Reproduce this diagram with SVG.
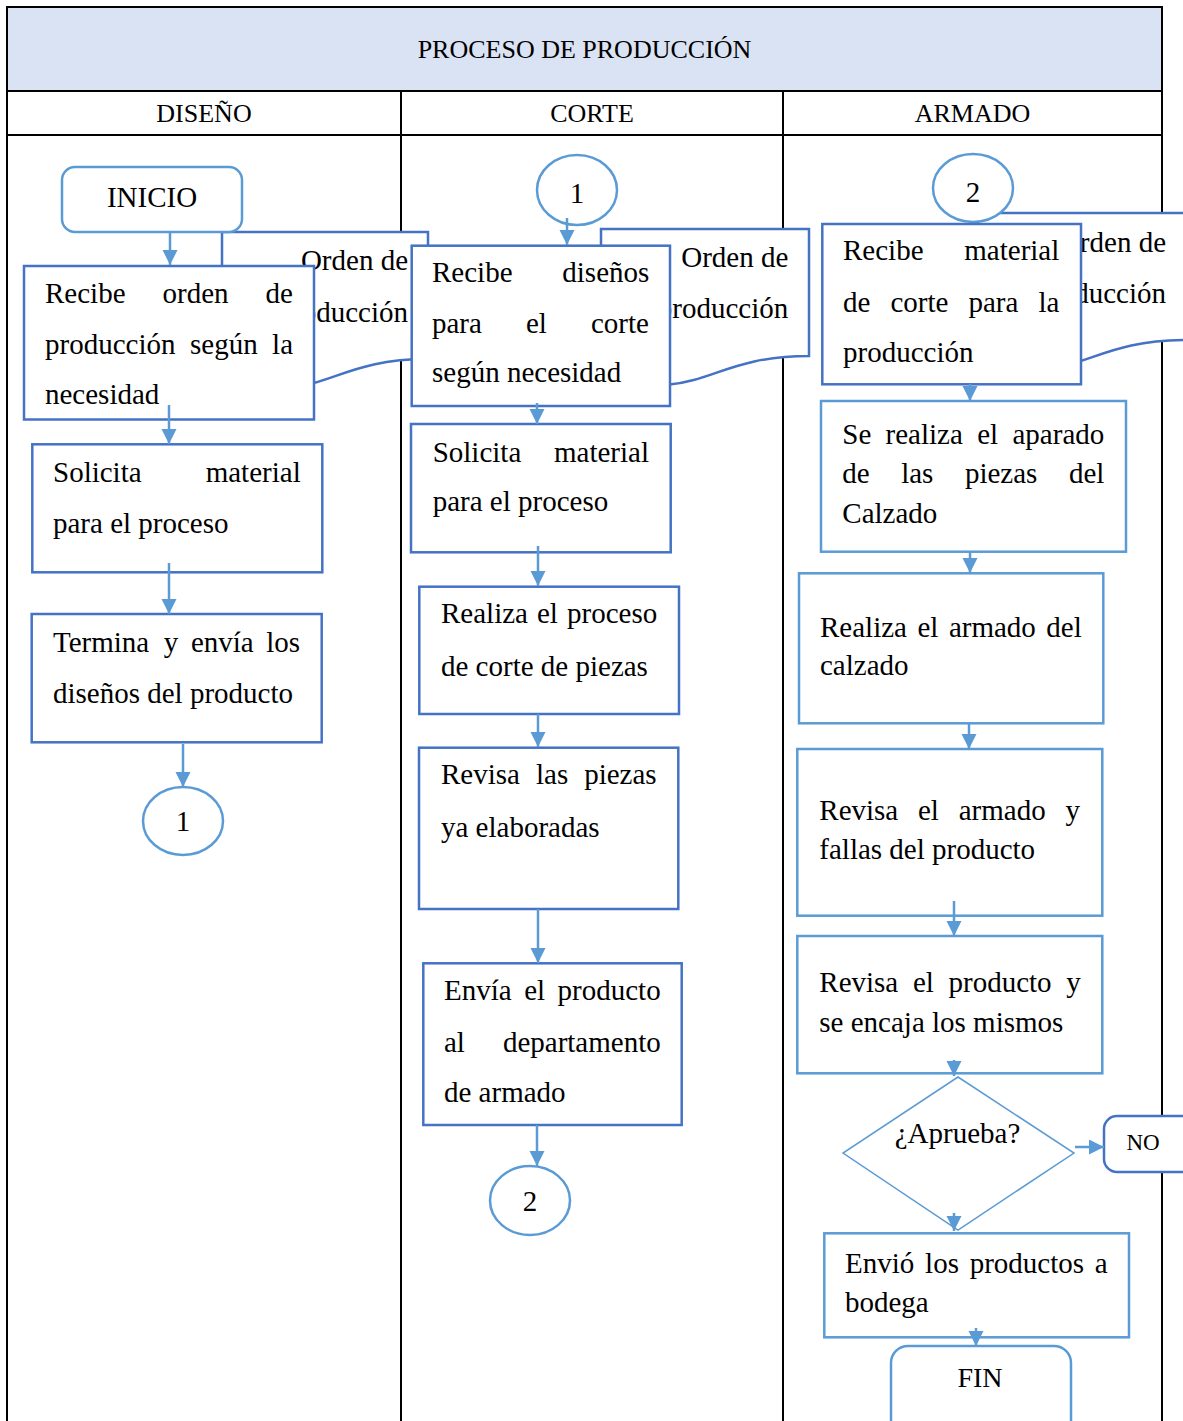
<svg xmlns="http://www.w3.org/2000/svg" width="1183" height="1421" viewBox="0 0 1183 1421">
<style>
.t{font-family:"Liberation Serif","Times New Roman",serif;font-size:29px;fill:#000}
.h{font-size:26px}
.c{text-anchor:middle}
.e{text-anchor:end}
.box{fill:#fff;stroke:#4472c4;stroke-width:2.5}
.lbox{fill:#fff;stroke:#5b9bd5;stroke-width:2.5}
.conn{stroke:#5b9bd5;stroke-width:2.5;fill:none;marker-end:url(#ah)}
.grid{stroke:#000;stroke-width:2;fill:none}
</style>
<defs>
<marker id="ah" markerUnits="userSpaceOnUse" markerWidth="16" markerHeight="16" refX="15" refY="7.5" orient="auto">
<path d="M0,0 L15,7.5 L0,15 z" fill="#5b9bd5"/>
</marker>
</defs>
<rect width="1183" height="1421" fill="#fff"/>
<g id="table">
<rect x="7" y="7" width="1155" height="84" fill="#dae3f3" stroke="#000" stroke-width="2"/>
<line class="grid" x1="7" y1="91" x2="7" y2="1421"/>
<line class="grid" x1="1162" y1="91" x2="1162" y2="1421"/>
<line class="grid" x1="7" y1="135" x2="1162" y2="135"/>
<line class="grid" x1="401" y1="91" x2="401" y2="1421"/>
<line class="grid" x1="783" y1="91" x2="783" y2="1421"/>
<text class="t h c" x="584.5" y="58">PROCESO DE PRODUCCIÓN</text>
<text class="t h c" x="204" y="122">DISEÑO</text>
<text class="t h c" x="592" y="122">CORTE</text>
<text class="t h c" x="972.5" y="122">ARMADO</text>
</g>
<g id="doc-diseno">
<path class="box" d="M222,232 H428 V359 C325,359 325,407 222,379.6 Z"/>
<text class="t e" x="408" y="270">Orden de</text>
<text class="t e" x="408" y="321.5">producción</text>
</g>
<g id="doc-corte">
<path class="box" d="M601,229 H809 V356 C705,356 705,404 601,376.6 Z"/>
<text class="t e" x="788.3" y="266.7">Orden de</text>
<text class="t e" x="788.3" y="317.7">producción</text>
</g>
<g id="doc-armado">
<path class="box" d="M978,213 H1186 V340 C1082,340 1082,388 978,360.6 Z"/>
<text class="t e" x="1166" y="252">Orden de</text>
<text class="t e" x="1166" y="303">producción</text>
</g>
<g id="inicio">
<rect class="lbox" x="62" y="167" width="180" height="65" rx="13"/>
<text class="t c" x="152" y="206.7">INICIO</text>
</g>
<g id="d-recibe">
<rect class="box" x="24" y="266" width="290" height="153.5"/>
<text class="t" y="303"><tspan x="45">Recibe</tspan><tspan x="162.6">orden</tspan><tspan x="265.6">de</tspan></text>
<text class="t" y="353.5"><tspan x="45">producción</tspan><tspan x="190">según</tspan><tspan x="272.1">la</tspan></text>
<text class="t" x="45" y="404">necesidad</text>
</g>
<g id="d-solicita">
<rect class="box" x="32.3" y="444.3" width="290" height="128"/>
<text class="t" y="481.7"><tspan x="53">Solicita</tspan><tspan x="205.7">material</tspan></text>
<text class="t" x="53" y="533">para el proceso</text>
</g>
<g id="d-termina">
<rect class="box" x="31.7" y="614" width="290" height="128.3"/>
<text class="t" y="651.7"><tspan x="53">Termina</tspan><tspan x="163.8">y</tspan><tspan x="190.9">envía</tspan><tspan x="266.2">los</tspan></text>
<text class="t" x="53" y="703">diseños del producto</text>
</g>
<g id="d-con1">
<ellipse class="lbox" cx="183" cy="821" rx="40" ry="34"/>
<text class="t c" x="183" y="831">1</text>
</g>
<g id="c-con1">
<ellipse class="lbox" cx="577" cy="190" rx="40" ry="35"/>
<text class="t c" x="577" y="202.7">1</text>
</g>
<g id="c-recibe">
<rect class="box" x="411.7" y="245.7" width="258.3" height="160.3"/>
<text class="t" y="281.7"><tspan x="432">Recibe</tspan><tspan x="562.3">diseños</tspan></text>
<text class="t" y="332.7"><tspan x="432">para</tspan><tspan x="526">el</tspan><tspan x="591">corte</tspan></text>
<text class="t" x="432" y="382.3">según necesidad</text>
</g>
<g id="c-solicita">
<rect class="box" x="411" y="424" width="259.7" height="128.3"/>
<text class="t" y="461.7"><tspan x="432.7">Solicita</tspan><tspan x="554">material</tspan></text>
<text class="t" x="432.7" y="511">para el proceso</text>
</g>
<g id="c-realiza">
<rect class="box" x="419.3" y="586.7" width="259.7" height="127.3"/>
<text class="t" y="622.7"><tspan x="441">Realiza</tspan><tspan x="537">el</tspan><tspan x="567.1">proceso</tspan></text>
<text class="t" x="441" y="676">de corte de piezas</text>
</g>
<g id="c-revisa">
<rect class="box" x="419" y="747.7" width="259.3" height="161.3"/>
<text class="t" y="784.3"><tspan x="441">Revisa</tspan><tspan x="536">las</tspan><tspan x="584.2">piezas</tspan></text>
<text class="t" x="441" y="836.7">ya elaboradas</text>
</g>
<g id="c-envia">
<rect class="box" x="423.3" y="963.3" width="258.4" height="161.7"/>
<text class="t" y="1000"><tspan x="444">Envía</tspan><tspan x="524.2">el</tspan><tspan x="557.6">producto</tspan></text>
<text class="t" y="1051.7"><tspan x="444">al</tspan><tspan x="502.9">departamento</tspan></text>
<text class="t" x="444" y="1102.3">de armado</text>
</g>
<g id="c-con2">
<ellipse class="lbox" cx="530" cy="1200.5" rx="40" ry="34.5"/>
<text class="t c" x="530" y="1211">2</text>
</g>
<g id="a-con2">
<ellipse class="lbox" cx="973" cy="188" rx="40" ry="34"/>
<text class="t c" x="973" y="201.7">2</text>
</g>
<g id="a-recibe">
<rect class="box" x="822.3" y="224" width="258.7" height="160.3"/>
<text class="t" y="260"><tspan x="843">Recibe</tspan><tspan x="964.3">material</tspan></text>
<text class="t" y="311.7"><tspan x="843">de</tspan><tspan x="890.4">corte</tspan><tspan x="968.4">para</tspan><tspan x="1038.4">la</tspan></text>
<text class="t" x="843" y="361.7">producción</text>
</g>
<g id="a-aparado">
<rect class="lbox" x="821" y="401" width="305" height="150.7"/>
<text class="t" y="444.3"><tspan x="842.3">Se</tspan><tspan x="885.6">realiza</tspan><tspan x="977.2">el</tspan><tspan x="1012.5">aparado</tspan></text>
<text class="t" y="482.7"><tspan x="842.3">de</tspan><tspan x="901.2">las</tspan><tspan x="964.9">piezas</tspan><tspan x="1068.9">del</tspan></text>
<text class="t" x="842.3" y="522.7">Calzado</text>
</g>
<g id="a-armado">
<rect class="lbox" x="799" y="573.3" width="304.3" height="150"/>
<text class="t" y="636.7"><tspan x="820">Realiza</tspan><tspan x="917.5">el</tspan><tspan x="948.9">armado</tspan><tspan x="1046.3">del</tspan></text>
<text class="t" x="820" y="675">calzado</text>
</g>
<g id="a-revisa1">
<rect class="lbox" x="797.3" y="749" width="305" height="166.7"/>
<text class="t" y="820"><tspan x="819.3">Revisa</tspan><tspan x="918">el</tspan><tspan x="958.7">armado</tspan><tspan x="1065.5">y</tspan></text>
<text class="t" x="819.3" y="859.3">fallas del producto</text>
</g>
<g id="a-revisa2">
<rect class="lbox" x="797.3" y="936" width="305" height="137.3"/>
<text class="t" y="991.7"><tspan x="819.3">Revisa</tspan><tspan x="912.9">el</tspan><tspan x="948.5">producto</tspan><tspan x="1066.2">y</tspan></text>
<text class="t" x="819.3" y="1031.7">se encaja los mismos</text>
</g>
<g id="a-aprueba">
<polygon points="958,1077 1074,1153 958,1230 843,1153" fill="#fff" stroke="#5b9bd5" stroke-width="1.5"/>
<text class="t c" x="957.5" y="1143">¿Aprueba?</text>
</g>
<g id="a-no">
<rect class="box" x="1104" y="1116" width="95" height="56" rx="13"/>
<text class="t c" x="1143" y="1150" style="font-size:23px">NO</text>
</g>
<g id="a-envio">
<rect class="lbox" x="824.3" y="1233.3" width="304.7" height="104"/>
<text class="t" y="1273.3"><tspan x="845">Envió</tspan><tspan x="925.1">los</tspan><tspan x="969.7">productos</tspan><tspan x="1094.8">a</tspan></text>
<text class="t" x="845" y="1312.3">bodega</text>
</g>
<g id="fin">
<rect class="lbox" x="891" y="1346" width="180" height="95" rx="17"/>
<text class="t c" x="980" y="1386.7" style="font-size:28px">FIN</text>
</g>
<g id="connectors">
<line class="conn" x1="170" y1="232" x2="170" y2="265"/>
<line class="conn" x1="169" y1="405" x2="169" y2="444"/>
<line class="conn" x1="169" y1="563" x2="169" y2="614"/>
<line class="conn" x1="183" y1="744" x2="183" y2="787"/>
<line class="conn" x1="567" y1="218" x2="567" y2="245"/>
<line class="conn" x1="537" y1="403" x2="537" y2="424"/>
<line class="conn" x1="538" y1="546" x2="538" y2="586"/>
<line class="conn" x1="538" y1="714" x2="538" y2="747"/>
<line class="conn" x1="538" y1="909" x2="538" y2="963"/>
<line class="conn" x1="537" y1="1125" x2="537" y2="1166"/>
<line class="conn" x1="970" y1="384" x2="970" y2="401"/>
<line class="conn" x1="970" y1="551" x2="970" y2="573"/>
<line class="conn" x1="969" y1="724" x2="969" y2="749"/>
<line class="conn" x1="954" y1="901" x2="954" y2="936"/>
<line class="conn" x1="954" y1="1060" x2="954" y2="1076"/>
<line class="conn" x1="954" y1="1213" x2="954" y2="1231"/>
<line class="conn" x1="1075" y1="1147" x2="1104" y2="1147"/>
<line class="conn" x1="976" y1="1328" x2="976" y2="1346"/>
</g>
</svg>
